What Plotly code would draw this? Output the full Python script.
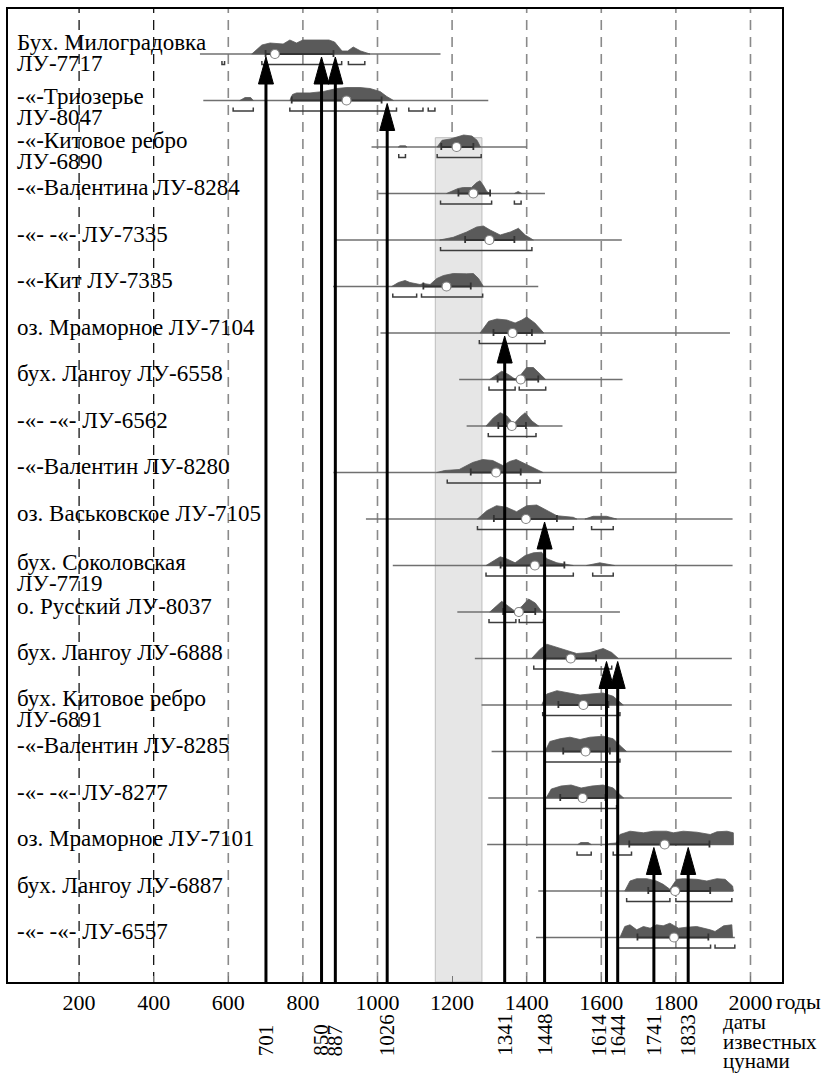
import plotly.graph_objects as go

# ---------------- data ----------------
ROW_LABELS = [
    ["Бух. Милоградовка", "ЛУ-7717"],
    ["-«-Триозерье", "ЛУ-8047"],
    ["-«-Китовое ребро", "ЛУ-6890"],
    ["-«-Валентина ЛУ-8284"],
    ["-«- -«- ЛУ-7335"],
    ["-«-Кит ЛУ-7335"],
    ["оз. Мраморное ЛУ-7104"],
    ["бух. Лангоу ЛУ-6558"],
    ["-«- -«- ЛУ-6562"],
    ["-«-Валентин ЛУ-8280"],
    ["оз. Васьковское ЛУ-7105"],
    ["бух. Соколовская", "ЛУ-7719"],
    ["о. Русский ЛУ-8037"],
    ["бух. Лангоу ЛУ-6888"],
    ["бух. Китовое ребро", "ЛУ-6891"],
    ["-«-Валентин ЛУ-8285"],
    ["-«- -«- ЛУ-8277"],
    ["оз. Мраморное ЛУ-7101"],
    ["бух. Лангоу ЛУ-6887"],
    ["-«- -«- ЛУ-6557"],
]

RANGE_LO = [524, 533, 984, 1002, 886, 881, 1008, 1219, 1239, 882,
            969, 1041, 1214, 1261, 1279, 1306, 1297, 1294, 1431, 1425]
RANGE_HI = [1169, 1297, 1400, 1449, 1655, 1431, 1945, 1657, 1496, 1802,
            1952, 1952, 1650, 1950, 1950, 1950, 1950, 1954, 1954, 1958]
MEDIAN = [725, 917, 1212, 1257, 1300, 1185, 1362, 1384, 1360, 1318,
          1398, 1422, 1379, 1518, 1552, 1558, 1550, 1770, 1798, 1795]

# probability density lobes: (calendar year, relative height; peak ~15)
DENSITY = [
    [[(663, 0), (690, 9), (712, 11), (747, 10), (765, 14), (783, 11), (800, 14), (870, 14),
      (885, 12), (905, 3), (920, 3), (935, 7), (955, 3), (980, 0)]],
    [[(631, 0), (645, 3), (660, 3), (667, 0)],
     [(765, 0), (772, 6), (783, 7.6), (819, 7.6), (855, 9), (891, 12), (918, 13), (953, 13),
      (980, 12), (1007, 9), (1025, 4), (1043, 0)]],
    [[(1056, 0), (1060, 1.2), (1075, 1.2), (1079, 0)],
     [(1160, 0), (1173, 6.7), (1195, 8), (1213, 10), (1231, 12), (1253, 11), (1267, 6.7), (1276, 0)]],
    [[(1185, 0), (1216, 5), (1230, 6), (1252, 6), (1266, 11), (1275, 12.7), (1284, 8), (1293, 2), (1302, 0)],
     [(1367, 0), (1377, 2), (1387, 0)]],
    [[(1167, 0), (1203, 2.7), (1239, 8), (1266, 13), (1284, 14), (1302, 10), (1329, 5), (1356, 8),
      (1378, 11.7), (1396, 5), (1418, 0)]],
    [[(1038, 0), (1056, 4), (1074, 6), (1087, 4), (1114, 2), (1123, 3), (1141, 2), (1159, 8),
      (1177, 11), (1203, 13), (1239, 12.7), (1257, 13), (1271, 8), (1284, 0)]],
    [[(1275, 0), (1298, 11.7), (1320, 14), (1347, 13), (1369, 10), (1387, 13), (1400, 16),
      (1422, 10), (1446, 0)]],
    [[(1301, 0), (1319, 5), (1333, 8.3), (1351, 5), (1369, 0.3), (1382, 3.7), (1400, 12),
      (1418, 12), (1436, 5), (1451, 0)]],
    [[(1291, 0), (1311, 8.3), (1329, 13.3), (1347, 10), (1365, 2), (1383, 9.3), (1396, 13.3),
      (1414, 5), (1432, 0)]],
    [[(1159, 0), (1180, 2), (1219, 3), (1255, 10), (1282, 13), (1309, 12), (1336, 7), (1354, 11),
      (1372, 13), (1399, 8), (1426, 3), (1444, 0)]],
    [[(1268, 0), (1293, 8.3), (1319, 13.3), (1346, 11.7), (1373, 7.3), (1400, 13.3), (1427, 14),
      (1454, 8.3), (1481, 3.3), (1525, 1.7), (1534, 0)],
     [(1556, 0), (1578, 2.7), (1614, 2.7), (1641, 0)]],
    [[(1291, 0), (1329, 8.7), (1346, 6.7), (1369, 2.7), (1396, 10), (1418, 12.7), (1440, 13.3),
      (1454, 6.7), (1481, 2.7), (1525, 0)],
     [(1560, 0), (1596, 2.7), (1636, 0)]],
    [[(1301, 0), (1319, 5.7), (1333, 10.7), (1351, 5.7), (1369, 0.7), (1387, 5.7), (1405, 13),
      (1423, 9), (1441, 0)]],
    [[(1413, 0), (1436, 9.3), (1454, 14.3), (1481, 11), (1507, 7.7), (1534, 5), (1570, 6),
      (1605, 10), (1628, 6), (1646, 0)]],
    [[(1440, 0), (1454, 11), (1481, 14.3), (1516, 12), (1543, 10), (1570, 11), (1605, 12),
      (1632, 8.7), (1659, 0)]],
    [[(1449, 0), (1462, 10), (1489, 12.7), (1516, 14.3), (1543, 12), (1570, 14.3), (1605, 15.3),
      (1632, 12.7), (1650, 6), (1668, 0)]],
    [[(1452, 0), (1466, 9), (1492, 12), (1519, 13), (1546, 10), (1575, 12), (1605, 13),
      (1632, 10), (1648, 4), (1660, 0)]],
    [[(1537, 0), (1545, 2), (1565, 2), (1573, 0)],
     [(1615, 0), (1623, 1), (1640, 1.5), (1650, 10), (1677, 13.3), (1713, 11.7), (1740, 13.3),
      (1775, 13.3), (1793, 11.7), (1820, 13.3), (1856, 12.3), (1892, 10), (1910, 12.7),
      (1937, 13.3), (1954, 11.7), (1954.5, 0)]],
    [[(1663, 0), (1677, 10), (1695, 12.3), (1722, 12.3), (1748, 10), (1766, 6.7), (1784, 1.7),
      (1802, 11.7), (1820, 12.3), (1856, 11.7), (1883, 10), (1910, 12.3), (1932, 11.7),
      (1952, 5), (1954, 0)]],
    [[(1650, 0), (1663, 11), (1677, 12.7), (1695, 7.7), (1713, 11), (1731, 9.3), (1748, 12.7),
      (1766, 11.7), (1784, 14.3), (1807, 9.3), (1829, 10.3), (1856, 11), (1892, 7.7), (1905, 6),
      (1928, 11.7), (1950, 12.7), (1952, 0)]],
]

SIGMA1 = [(700, 882), (770, 1011), (1171, 1257), (1217, 1302), (1235, 1367), (1123, 1250),
          (1311, 1414), (1322, 1431), (1324, 1398), (1250, 1384), (1312, 1481), (1330, 1501),
          (1337, 1423), (1450, 1586), (1485, 1619), (1498, 1623), (1490, 1611), (1675, 1890),
          (1726, 1892), (1697, 1887)]

SIGMA2 = [
    [(583, 590), (690, 904), (922, 966)],
    [(613, 667), (765, 1051), (1084, 1122), (1136, 1154)],
    [(1057, 1075), (1160, 1278)],
    [(1169, 1306), (1367, 1385)],
    [(1169, 1414)],
    [(1041, 1105), (1118, 1282)],
    [(1273, 1449)],
    [(1299, 1369), (1380, 1451)],
    [(1297, 1425)],
    [(1187, 1436)],
    [(1268, 1525), (1574, 1632)],
    [(1291, 1525), (1577, 1632)],
    [(1299, 1371), (1380, 1445)],
    [(1419, 1628)],
    [(1443, 1650)],
    [(1449, 1650)],
    [(1449, 1641)],
    [(1535, 1573), (1632, 1681)],
    [(1668, 1784), (1800, 1950)],
    [(1645, 1893), (1905, 1958)],
]

TSUNAMI_YEARS = [701, 850, 887, 1026, 1341, 1448, 1614, 1644, 1741, 1833]
TSUNAMI_ROW = [1, 1, 1, 2, 7, 11, 14, 14, 18, 18]

GRID_YEARS = [200, 400, 600, 800, 1000, 1200, 1400, 1600, 1800, 2000]
BAND = (1155, 1280)

# ---------------- layout constants ----------------
W, H = 837, 1075
ML, MR, MT, MB = 8, 55, 9, 93
PLOT_W = W - ML - MR
PLOT_H = H - MT - MB
X_RANGE = [9.4, 2084.5]
Y_TOP, Y_BOT = 0.032, 20.957
ROW_PX = PLOT_H / (Y_BOT - Y_TOP)
PX_PER_YEAR = PLOT_W / (X_RANGE[1] - X_RANGE[0])
FONT = "Liberation Serif"


def py(px):
    """pixel y (from top of page) -> paper y"""
    return (H - MB - px) / PLOT_H


fig = go.Figure()

# baselines
bx, by = [], []
for i, (lo, hi) in enumerate(zip(RANGE_LO, RANGE_HI)):
    r = i + 1
    bx += [lo, hi, None]
    by += [r, r, None]
fig.add_trace(go.Scatter(x=bx, y=by, mode="lines", line=dict(color="#707070", width=1.4),
                         hoverinfo="skip", showlegend=False))

# densities
dx, dy = [], []
for i, lobes in enumerate(DENSITY):
    r = i + 1
    for lobe in lobes:
        xs = [p[0] for p in lobe]
        ys = [r - p[1] / ROW_PX for p in lobe]
        dx += xs + [xs[-1], xs[0], None]
        dy += ys + [r, r, None]
fig.add_trace(go.Scatter(x=dx, y=dy, mode="lines", fill="toself", fillcolor="#5a5a5a",
                         line=dict(color="#5a5a5a", width=0.8), hoverinfo="skip",
                         showlegend=False))

# 1-sigma segments with end ticks
sx, sy = [], []
for i, (a, b) in enumerate(SIGMA1):
    r = i + 1
    sx += [a, b, None, a, a, None, b, b, None]
    sy += [r, r, None, r - 4 / ROW_PX, r + 3 / ROW_PX, None, r - 4 / ROW_PX, r + 3 / ROW_PX, None]
fig.add_trace(go.Scatter(x=sx, y=sy, mode="lines", line=dict(color="#333333", width=1.8),
                         hoverinfo="skip", showlegend=False))

# 2-sigma brackets below
kx, ky = [], []
for i, segs in enumerate(SIGMA2):
    r = i + 1
    yb = r + 10.5 / ROW_PX
    yt = yb - 3.5 / ROW_PX
    for a, b in segs:
        kx += [a, a, b, b, None]
        ky += [yt, yb, yb, yt, None]
fig.add_trace(go.Scatter(x=kx, y=ky, mode="lines", line=dict(color="#3c3c3c", width=1.5),
                         hoverinfo="skip", showlegend=False))

# medians
fig.add_trace(go.Scatter(x=MEDIAN, y=list(range(1, len(MEDIAN) + 1)), mode="markers",
                         marker=dict(symbol="circle", size=9, color="white",
                                     line=dict(color="#808080", width=1.2)),
                         hoverinfo="skip", showlegend=False))

# tsunami arrows
HEAD_LEN = 27 / ROW_PX
HEAD_HALF = 7.5 / PX_PER_YEAR
ax_, ay_ = [], []
hx, hy = [], []
for yr, row in zip(TSUNAMI_YEARS, TSUNAMI_ROW):
    tip = row + 3 / ROW_PX
    base = tip + HEAD_LEN
    ax_ += [yr, yr, None]
    ay_ += [Y_BOT, base - 0.05, None]
    hx += [yr - HEAD_HALF, yr, yr + HEAD_HALF, yr - HEAD_HALF, None]
    hy += [base, tip, base, base, None]
fig.add_trace(go.Scatter(x=ax_, y=ay_, mode="lines", line=dict(color="black", width=3),
                         hoverinfo="skip", showlegend=False))
fig.add_trace(go.Scatter(x=hx, y=hy, mode="lines", fill="toself", fillcolor="black",
                         line=dict(color="black", width=1), hoverinfo="skip",
                         showlegend=False))

# shapes: band + dashed grid
shapes = [dict(type="rect", xref="x", yref="y", x0=BAND[0], x1=BAND[1], y0=2.8, y1=Y_BOT,
               fillcolor="#e6e6e6", line=dict(color="#bdbdbd", width=1), layer="below")]
for g in GRID_YEARS:
    dark = g < 600
    shapes.append(dict(type="line", xref="x", yref="paper", x0=g, x1=g, y0=0, y1=1,
                       line=dict(color="#000000" if dark else "#8a8a8a",
                                 width=1.2 if dark else 1.6, dash="10px,7px"),
                       layer="below"))

annotations = []
# row labels (pixel offsets of text lines from the sample's baseline)
LINE_OFF_1 = [-6]
LINE_OFF_2 = [-6.5, 14.5]
ROW_LABEL_ADJ = {1: -5, 2: 2, 12: 3}
for i, lines in enumerate(ROW_LABELS):
    r = i + 1
    offs = LINE_OFF_1 if len(lines) == 1 else LINE_OFF_2
    for txt, off in zip(lines, offs):
        off = off + ROW_LABEL_ADJ.get(r, 0)
        annotations.append(dict(text=txt, xref="paper", yref="y", x=0, y=r, xshift=7,
                                yshift=-off, xanchor="left", yanchor="middle", showarrow=False,
                                font=dict(family=FONT, size=23, color="black")))

# rotated tsunami year labels (bottom-aligned: text reads upward)
LABEL_XSHIFT = {1614: -8}
DIGIT_PX = 10.5
for yr in TSUNAMI_YEARS:
    n = len(str(yr))
    annotations.append(dict(text=str(yr), xref="x", yref="paper", x=yr,
                            y=py(1056 - n * DIGIT_PX / 2),
                            xshift=LABEL_XSHIFT.get(yr, 0), textangle=-90,
                            xanchor="center", yanchor="middle", showarrow=False,
                            font=dict(family=FONT, size=21, color="black")))

# right-hand texts
annotations.append(dict(text="годы", xref="paper", yref="paper", x=(774 - ML) / PLOT_W,
                        y=py(1001), xanchor="left", yanchor="middle", showarrow=False,
                        font=dict(family=FONT, size=22, color="black")))
for txt, ypx in [("даты", 1022), ("известных", 1042), ("цунами", 1061)]:
    annotations.append(dict(text=txt, xref="paper", yref="paper", x=(721 - ML) / PLOT_W,
                            y=py(ypx), xanchor="left", yanchor="middle", showarrow=False,
                            font=dict(family=FONT, size=21, color="black")))

fig.update_layout(
    width=W, height=H, margin=dict(l=ML, r=MR, t=MT, b=MB),
    paper_bgcolor="white", plot_bgcolor="white",
    shapes=shapes, annotations=annotations, showlegend=False,
    xaxis=dict(range=X_RANGE, tickvals=GRID_YEARS, ticktext=[str(g) for g in GRID_YEARS],
               ticks="inside", ticklen=6, tickcolor="#777", tickwidth=1.2,
               showgrid=False, zeroline=False, showline=True, mirror=True,
               linecolor="black", linewidth=1.5, ticklabelstandoff=0,
               tickfont=dict(family=FONT, size=22, color="black")),
    yaxis=dict(range=[Y_BOT, Y_TOP], showticklabels=False, ticks="", showgrid=False,
               zeroline=False, showline=True, mirror=True, linecolor="black", linewidth=1.5),
)

fig.write_html("out.html")
